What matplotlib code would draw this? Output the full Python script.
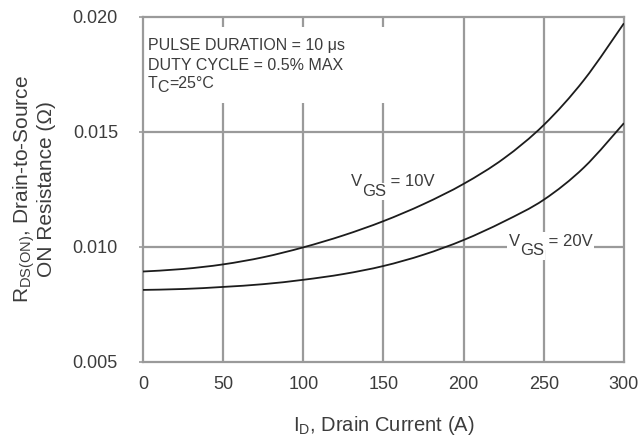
import matplotlib
matplotlib.use("Agg")
import matplotlib.pyplot as plt
import numpy as np
from matplotlib.path import Path
from matplotlib.patches import PathPatch, Rectangle
from matplotlib.transforms import offset_copy

drain_current = [0, 25, 50, 75, 100, 125, 150, 175, 200, 225, 250, 275, 300]
rds_vgs10 = [0.00893, 0.00904, 0.00924, 0.00955, 0.00998, 0.0105, 0.01112, 0.01186,
             0.01274, 0.01384, 0.0153, 0.01725, 0.01972]
rds_vgs20 = [0.00813, 0.00817, 0.00826, 0.00838, 0.00857, 0.00882, 0.00917, 0.00966,
             0.0103, 0.0111, 0.01205, 0.01345, 0.01538]
x_ticks = [0, 50, 100, 150, 200, 250, 300]
y_ticks = [0.005, 0.010, 0.015, 0.020]
y_tick_labels = ["0.005", "0.010", "0.015", "0.020"]

plt.rcParams['font.family'] = ['Liberation Sans', 'DejaVu Sans']
fig = plt.figure(figsize=(6.38, 4.43), dpi=100)
ax = fig.add_axes([0.224, 0.183, 0.754, 0.779])

grid_c = "#9a9a9a"
line_c = "#1c1c1c"
text_c = "#3c3c3c"

ax.set_xlim(0, 300)
ax.set_ylim(0.005, 0.020)
ax.set_xticks(x_ticks)
ax.set_yticks(y_ticks)
ax.set_yticklabels(y_tick_labels)
for x in x_ticks[1:-1]:
    ax.axvline(x, color=grid_c, lw=1.6, zorder=1)
for y in y_ticks[1:-1]:
    ax.axhline(y, color=grid_c, lw=1.6, zorder=1)


def smooth_curve(xs, ys):
    # Catmull-Rom through the read points, drawn as cubic Bezier segments
    pts = np.column_stack([np.asarray(xs, float), np.asarray(ys, float)])
    verts = [pts[0]]
    codes = [Path.MOVETO]
    n = len(pts)
    for i in range(n - 1):
        p0 = pts[i - 1] if i > 0 else pts[i]
        p1 = pts[i]
        p2 = pts[i + 1]
        p3 = pts[i + 2] if i + 2 < n else pts[i + 1]
        verts += [p1 + (p2 - p0) / 6.0, p2 - (p3 - p1) / 6.0, p2]
        codes += [Path.CURVE4] * 3
    return Path(verts, codes)


for series in (rds_vgs10, rds_vgs20):
    ax.add_patch(PathPatch(smooth_curve(drain_current, series), facecolor='none',
                           edgecolor=line_c, lw=1.3, zorder=4, capstyle='butt'))

for s in ax.spines.values():
    s.set_color(grid_c)
    s.set_linewidth(1.6)
ax.tick_params(axis='y', colors=grid_c, labelcolor=text_c, labelsize=13, length=3, width=1.2, pad=15)
ax.tick_params(axis='x', colors=grid_c, labelcolor=text_c, labelsize=13, length=0, pad=10)

renderer = fig.canvas.get_renderer()


def chain(x, y, pieces, size, bbox=None, z=3):
    """Place text pieces side by side; each piece is (text, baseline offset in points)."""
    dx = 0.0
    for k, (s, dy) in enumerate(pieces):
        tr = offset_copy(ax.transData, fig=fig, x=dx, y=dy, units='points')
        t = ax.text(x, y, s, transform=tr, fontsize=size, color=text_c, va='baseline',
                    ha='left', bbox=bbox, zorder=z + 0.1 * (len(pieces) - k))
        dx += t.get_window_extent(renderer).width * 72.0 / fig.dpi


# white backing behind the condition notes (grid lines are broken there)
ax.add_patch(Rectangle((1, 0.01626), 160, 0.00331, facecolor='white', edgecolor='none', zorder=2))
chain(3.1, 0.018565, [("PULSE DURATION = 10 \u03bcs", 0)], 11.5)
chain(3.1, 0.017696, [("DUTY CYCLE = 0.5% MAX", 0)], 11.5)
chain(3.1, 0.016913, [("T", 0), ("C", -3), ("=25\u00b0C", 0)], 11.5)

bb = dict(facecolor='white', edgecolor='none', pad=1.0)
chain(130, 0.01263, [("V", 0), ("GS", -7), (" = 10V", 0)], 12, bbox=bb)
chain(228, 0.01005, [("V", 0), ("GS", -7), (" = 20V", 0)], 12, bbox=bb)

ax.set_xlabel("I$_\\mathregular{D}$, Drain Current (A)", fontsize=14.5, color=text_c, labelpad=15)
ax.set_ylabel("R$_\\mathregular{DS(ON)}$, Drain-to-Source\nON Resistance (\u03a9)", fontsize=15,
              color=text_c, labelpad=12, linespacing=1.0)

fig.savefig("out.png", dpi=100)
